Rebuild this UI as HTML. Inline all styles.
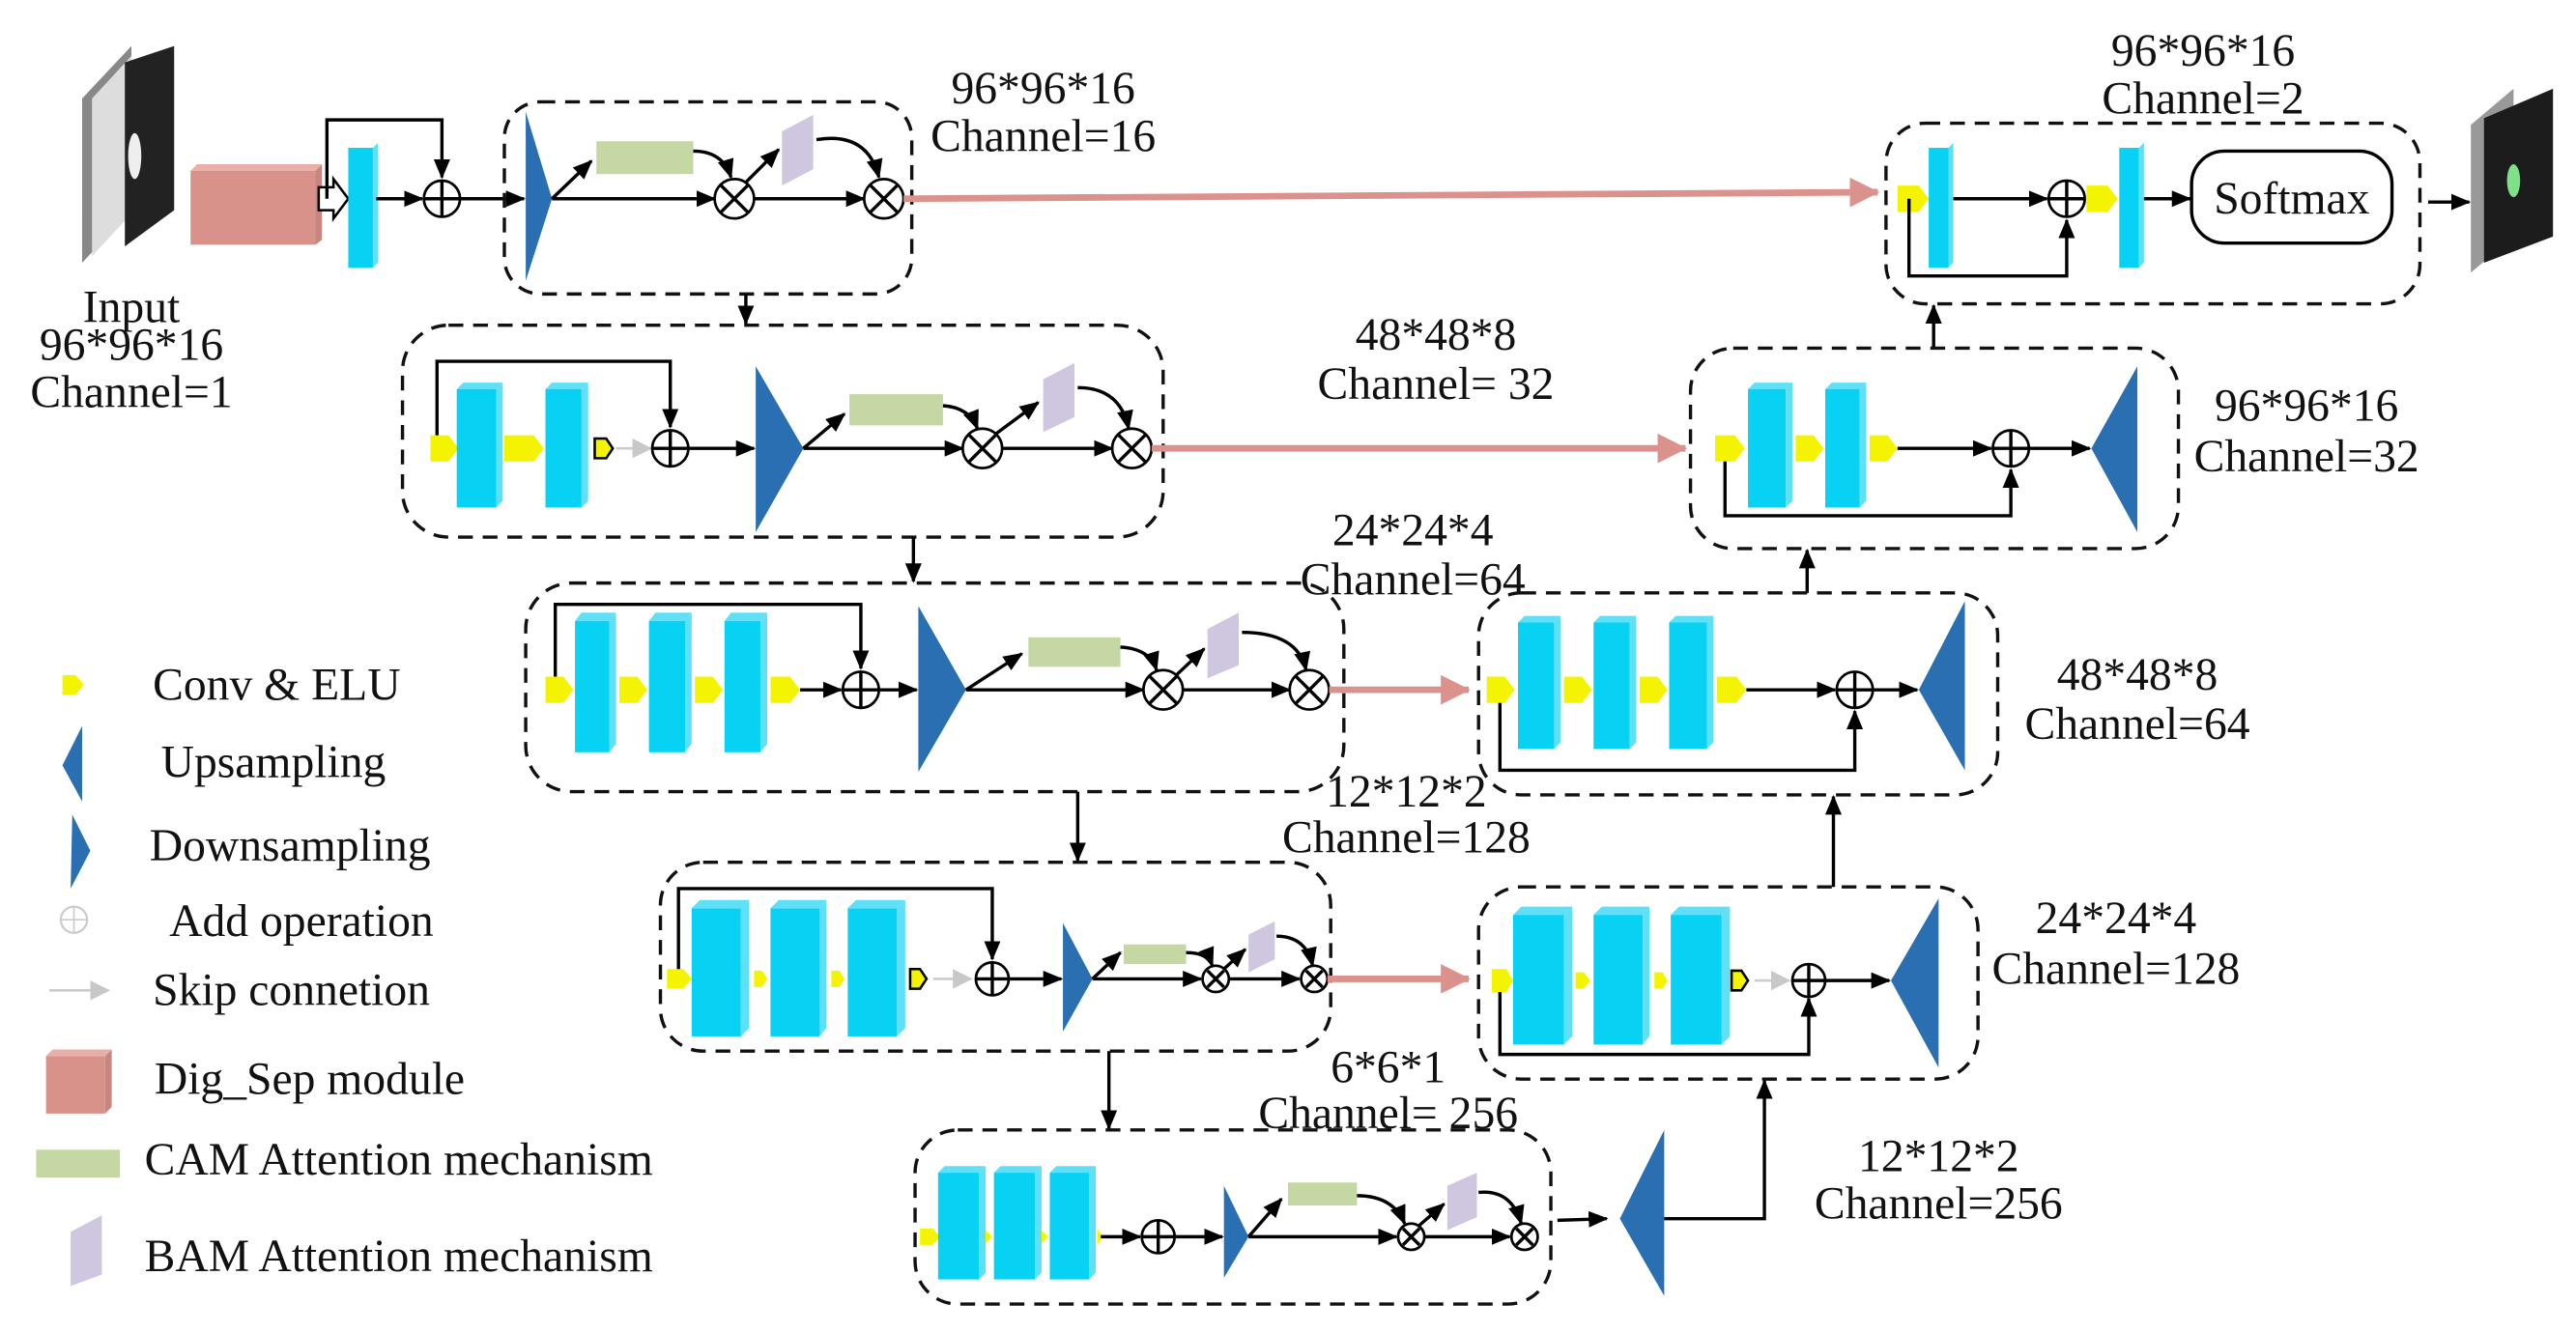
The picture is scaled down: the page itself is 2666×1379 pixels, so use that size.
<!DOCTYPE html>
<html><head><meta charset="utf-8"><style>
html,body{margin:0;padding:0;background:#fff;}
svg{display:block;}
text{font-family:"Liberation Serif",serif;font-size:28px;fill:#111;}
.ln{stroke:#000;stroke-width:2;fill:none;}
.db{stroke:#111;stroke-width:2;fill:none;stroke-dasharray:9 6;}
.cy{fill:#08d2f4;}
.cys{fill:#5fe0f7;}
.ye{fill:#f4f400;}
.tri{fill:#2a6fb2;}
.gr{fill:#c5d8a3;}
.pu{fill:#cfc6df;}
.pk{stroke:#dc928c;stroke-width:4;fill:none;}
.op{fill:#fff;stroke:#000;stroke-width:1.6;}
</style></head><body>
<svg width="2666" height="1379" viewBox="0 0 1568 811" preserveAspectRatio="none" xmlns="http://www.w3.org/2000/svg">
<defs>
<marker id="a" markerWidth="12" markerHeight="10" refX="11" refY="5" orient="auto" markerUnits="userSpaceOnUse"><path d="M0,0 L12,5 L0,10 z" fill="#000"/></marker>
<marker id="p" markerWidth="18" markerHeight="18" refX="17" refY="9" orient="auto" markerUnits="userSpaceOnUse"><path d="M0,0 L18,9 L0,18 z" fill="#dc928c"/></marker>
<marker id="g" markerWidth="12" markerHeight="12" refX="11" refY="6" orient="auto" markerUnits="userSpaceOnUse"><path d="M0,0 L12,6 L0,12 z" fill="#c8c8c8"/></marker>
</defs>

<!-- Input image -->
<polygon points="50,60 80,28 80,128 50,160" fill="#888"/>
<polygon points="56,60 80,34 80,130 56,156" fill="#ddd"/>
<polygon points="76,38 106,28 106,128 76,150" fill="#222"/>
<ellipse cx="82" cy="95" rx="4" ry="14" fill="#eee"/>
<text x="80" y="196" text-anchor="middle">Input</text>
<text x="80" y="219" text-anchor="middle">96*96*16</text>
<text x="80" y="248" text-anchor="middle">Channel=1</text>

<!-- Dig_Sep pink box -->
<polygon points="116,104 120,100 196,100 192,104" fill="#e9b0aa"/>
<polygon points="192,104 196,100 196,146 192,149" fill="#c98680"/>
<rect x="116" y="104" width="76" height="45" fill="#d9928a"/>
<polygon points="194,114 203,114 203,109 212,121 203,133 203,128 194,128" fill="#fff" stroke="#000" stroke-width="1.5"/>
<rect x="212" y="90" width="15" height="73" class="cy"/><polygon points="227,90 230,87 230,160 227,163" class="cys"/>
<line x1="229" y1="121" x2="257" y2="121" class="ln" marker-end="url(#a)"/>
<polyline points="199,121 199,73 269,73 269,108" class="ln" marker-end="url(#a)"/>
<circle cx="269" cy="121" r="11" class="op"/><line x1="258" y1="121" x2="280" y2="121" class="ln" stroke-width="1.4"/><line x1="269" y1="110" x2="269" y2="132" class="ln" stroke-width="1.4"/>
<line x1="280" y1="121" x2="319" y2="121" class="ln" marker-end="url(#a)"/>

<!-- Encoder block 1 -->
<rect x="307" y="62" width="248" height="117" rx="22" class="db"/>
<polygon points="320,68 336,121 320,171" class="tri"/>
<line x1="336" y1="121" x2="360" y2="98" class="ln" marker-end="url(#a)"/>
<rect x="363" y="86" width="59" height="20" class="gr"/>
<line x1="336" y1="121" x2="435" y2="121" class="ln" marker-end="url(#a)"/>
<path d="M422,92 Q440,92 445,108" class="ln" marker-end="url(#a)"/>
<line x1="453" y1="112" x2="474" y2="91" class="ln" marker-end="url(#a)"/>
<polygon points="476,80 495,70 495,103 476,113" class="pu"/>
<line x1="459" y1="121" x2="526" y2="121" class="ln" marker-end="url(#a)"/>
<path d="M497,85 Q528,80 535,108" class="ln" marker-end="url(#a)"/>
<circle cx="447" cy="121" r="12" class="op" stroke-width="2"/><path d="M439,113 L455,129 M455,113 L439,129" class="ln"/>
<circle cx="538" cy="121" r="12" class="op" stroke-width="2"/><path d="M530,113 L546,129 M546,113 L530,129" class="ln"/>
<text x="635" y="63" text-anchor="middle">96*96*16</text>
<text x="635" y="92" text-anchor="middle">Channel=16</text>
<line x1="550" y1="121" x2="1143" y2="117" class="pk" marker-end="url(#p)"/>
<line x1="454" y1="179" x2="454" y2="197" class="ln" marker-end="url(#a)"/>

<!-- Decoder top block -->
<rect x="1148" y="75" width="325" height="110" rx="24" class="db"/>
<polygon points="1155,113 1168,113 1174,121 1168,129 1155,129" class="ye"/>
<rect x="1174" y="90" width="12" height="73" class="cy"/><polygon points="1186,90 1189,87 1189,160 1186,163" class="cys"/>
<line x1="1189" y1="121" x2="1246" y2="121" class="ln" marker-end="url(#a)"/>
<polyline points="1162,121 1162,168 1258,168 1258,134" class="ln" marker-end="url(#a)"/>
<circle cx="1258" cy="121" r="11" class="op"/><line x1="1247" y1="121" x2="1269" y2="121" class="ln" stroke-width="1.4"/><line x1="1258" y1="110" x2="1258" y2="132" class="ln" stroke-width="1.4"/>
<polygon points="1270,113 1283,113 1289,121 1283,129 1270,129" class="ye"/>
<rect x="1290" y="90" width="12" height="73" class="cy"/><polygon points="1302,90 1305,87 1305,160 1302,163" class="cys"/>
<line x1="1305" y1="121" x2="1333" y2="121" class="ln" marker-end="url(#a)"/>
<rect x="1334" y="92" width="122" height="56" rx="20" fill="#fff" stroke="#000" stroke-width="2"/>
<text x="1395" y="130" text-anchor="middle">Softmax</text>
<line x1="1478" y1="123" x2="1503" y2="123" class="ln" marker-end="url(#a)"/>
<polygon points="1504,76 1530,54 1530,144 1504,166" fill="#999"/>
<polygon points="1512,72 1554,54 1554,144 1512,160" fill="#1c1c1c"/>
<ellipse cx="1530" cy="110" rx="4" ry="10" fill="#7fe08a"/>
<text x="1341" y="40" text-anchor="middle">96*96*16</text>
<text x="1341" y="69" text-anchor="middle">Channel=2</text>
<line x1="1177" y1="212" x2="1177" y2="186" class="ln" marker-end="url(#a)"/>

<!-- Encoder row 2 -->
<rect x="245" y="198" width="463" height="129" rx="28" class="db"/>
<polyline points="266,273 266,220 408,220 408,260" class="ln" marker-end="url(#a)"/>
<polygon points="262,265 273,265 279,273 273,281 262,281" class="ye"/>
<rect x="278" y="237" width="24" height="72" class="cy"/><polygon points="278,237 282,233 306,233 302,237" class="cys"/><polygon points="302,237 306,233 306,305 302,309" class="cys"/>
<polygon points="307,265 325,265 331,273 325,281 307,281" class="ye"/>
<rect x="332" y="237" width="22" height="72" class="cy"/><polygon points="332,237 336,233 358,233 354,237" class="cys"/><polygon points="354,237 358,233 358,305 354,309" class="cys"/>
<polygon points="362,267 369,267 373,273 369,279 362,279" class="ye" stroke="#000" stroke-width="1.5"/>
<line x1="375" y1="273" x2="396" y2="273" stroke="#ccc" stroke-width="1.5" marker-end="url(#g)"/>
<circle cx="408" cy="273" r="11" class="op"/><line x1="397" y1="273" x2="419" y2="273" class="ln" stroke-width="1.4"/><line x1="408" y1="262" x2="408" y2="284" class="ln" stroke-width="1.4"/>
<line x1="419" y1="273" x2="459" y2="273" class="ln" marker-end="url(#a)"/>
<polygon points="460,223 489,273 460,324" class="tri"/>
<line x1="489" y1="273" x2="514" y2="252" class="ln" marker-end="url(#a)"/>
<rect x="517" y="240" width="57" height="19" class="gr"/>
<line x1="489" y1="273" x2="586" y2="273" class="ln" marker-end="url(#a)"/>
<path d="M574,247 Q590,248 595,261" class="ln" marker-end="url(#a)"/>
<line x1="605" y1="265" x2="632" y2="245" class="ln" marker-end="url(#a)"/>
<polygon points="635,231 654,221 654,254 635,263" class="pu"/>
<line x1="610" y1="273" x2="677" y2="273" class="ln" marker-end="url(#a)"/>
<path d="M656,236 Q682,236 687,261" class="ln" marker-end="url(#a)"/>
<circle cx="598" cy="273" r="12" class="op" stroke-width="2"/><path d="M590,265 L606,281 M606,265 L590,281" class="ln"/>
<circle cx="689" cy="273" r="12" class="op" stroke-width="2"/><path d="M681,265 L697,281 M697,265 L681,281" class="ln"/>
<text x="874" y="213" text-anchor="middle">48*48*8</text>
<text x="874" y="243" text-anchor="middle">Channel= 32</text>
<line x1="701" y1="273" x2="1026" y2="273" class="pk" marker-end="url(#p)"/>
<line x1="556" y1="327" x2="556" y2="354" class="ln" marker-end="url(#a)"/>

<!-- Decoder row 2 -->
<rect x="1029" y="212" width="297" height="122" rx="26" class="db"/>
<polyline points="1050,273 1050,314 1224,314 1224,286" class="ln" marker-end="url(#a)"/>
<polygon points="1044,265 1056,265 1062,273 1056,281 1044,281" class="ye"/>
<rect x="1064" y="237" width="23" height="72" class="cy"/><polygon points="1064,237 1068,233 1091,233 1087,237" class="cys"/><polygon points="1087,237 1091,233 1091,305 1087,309" class="cys"/>
<polygon points="1093,265 1104,265 1110,273 1104,281 1093,281" class="ye"/>
<rect x="1111" y="237" width="21" height="72" class="cy"/><polygon points="1111,237 1115,233 1136,233 1132,237" class="cys"/><polygon points="1132,237 1136,233 1136,305 1132,309" class="cys"/>
<polygon points="1138,265 1149,265 1155,273 1149,281 1138,281" class="ye"/>
<line x1="1155" y1="273" x2="1212" y2="273" class="ln" marker-end="url(#a)"/>
<circle cx="1224" cy="273" r="11" class="op"/><line x1="1213" y1="273" x2="1235" y2="273" class="ln" stroke-width="1.4"/><line x1="1224" y1="262" x2="1224" y2="284" class="ln" stroke-width="1.4"/>
<line x1="1235" y1="273" x2="1272" y2="273" class="ln" marker-end="url(#a)"/>
<polygon points="1301,223 1273,273 1301,324" class="tri"/>
<text x="1404" y="256" text-anchor="middle">96*96*16</text>
<text x="1404" y="287" text-anchor="middle">Channel=32</text>
<line x1="1100" y1="361" x2="1100" y2="335" class="ln" marker-end="url(#a)"/>

<!-- Encoder row 3 -->
<rect x="320" y="355" width="498" height="127" rx="28" class="db"/>
<polyline points="338,420 338,368 524,368 524,407" class="ln" marker-end="url(#a)"/>
<polygon points="332,412 343,412 349,420 343,428 332,428" class="ye"/>
<rect x="350" y="378" width="21" height="80" class="cy"/><polygon points="350,378 354,373 375,373 371,378" class="cys"/><polygon points="371,378 375,373 375,453 371,458" class="cys"/>
<polygon points="377,412 388,412 394,420 388,428 377,428" class="ye"/>
<rect x="395" y="378" width="22" height="80" class="cy"/><polygon points="395,378 399,373 421,373 417,378" class="cys"/><polygon points="417,378 421,373 421,453 417,458" class="cys"/>
<polygon points="423,412 434,412 440,420 434,428 423,428" class="ye"/>
<rect x="441" y="378" width="22" height="80" class="cy"/><polygon points="441,378 445,373 467,373 463,378" class="cys"/><polygon points="463,378 467,373 467,453 463,458" class="cys"/>
<polygon points="469,412 481,412 487,420 481,428 469,428" class="ye"/>
<line x1="487" y1="420" x2="512" y2="420" class="ln" marker-end="url(#a)"/>
<circle cx="524" cy="420" r="11" class="op"/><line x1="513" y1="420" x2="535" y2="420" class="ln" stroke-width="1.4"/><line x1="524" y1="409" x2="524" y2="431" class="ln" stroke-width="1.4"/>
<line x1="535" y1="420" x2="558" y2="420" class="ln" marker-end="url(#a)"/>
<polygon points="559,369 588,420 559,470" class="tri"/>
<line x1="588" y1="420" x2="622" y2="398" class="ln" marker-end="url(#a)"/>
<rect x="626" y="388" width="56" height="18" class="gr"/>
<line x1="588" y1="420" x2="696" y2="420" class="ln" marker-end="url(#a)"/>
<path d="M682,394 Q700,395 704,408" class="ln" marker-end="url(#a)"/>
<line x1="715" y1="412" x2="733" y2="395" class="ln" marker-end="url(#a)"/>
<polygon points="735,383 754,373 754,405 735,413" class="pu"/>
<line x1="720" y1="420" x2="785" y2="420" class="ln" marker-end="url(#a)"/>
<path d="M756,385 Q790,385 795,408" class="ln" marker-end="url(#a)"/>
<circle cx="708" cy="420" r="12" class="op" stroke-width="2"/><path d="M700,412 L716,428 M716,412 L700,428" class="ln"/>
<circle cx="797" cy="420" r="12" class="op" stroke-width="2"/><path d="M789,412 L805,428 M805,412 L789,428" class="ln"/>
<line x1="809" y1="420" x2="894" y2="420" class="pk" marker-end="url(#p)"/>
<text x="860" y="332" text-anchor="middle">24*24*4</text>
<text x="860" y="362" text-anchor="middle">Channel=64</text>
<line x1="656" y1="482" x2="656" y2="524" class="ln" marker-end="url(#a)"/>

<!-- Decoder row 3 -->
<rect x="900" y="361" width="316" height="123" rx="26" class="db"/>
<polyline points="913,420 913,469 1129,469 1129,433" class="ln" marker-end="url(#a)"/>
<polygon points="905,412 916,412 922,420 916,428 905,428" class="ye"/>
<rect x="924" y="379" width="22" height="77" class="cy"/><polygon points="924,379 928,375 950,375 946,379" class="cys"/><polygon points="946,379 950,375 950,452 946,456" class="cys"/>
<polygon points="952,412 963,412 969,420 963,428 952,428" class="ye"/>
<rect x="970" y="379" width="22" height="77" class="cy"/><polygon points="970,379 974,375 996,375 992,379" class="cys"/><polygon points="992,379 996,375 996,452 992,456" class="cys"/>
<polygon points="998,412 1009,412 1015,420 1009,428 998,428" class="ye"/>
<rect x="1016" y="379" width="23" height="77" class="cy"/><polygon points="1016,379 1020,375 1043,375 1039,379" class="cys"/><polygon points="1039,379 1043,375 1043,452 1039,456" class="cys"/>
<polygon points="1045,412 1057,412 1063,420 1057,428 1045,428" class="ye"/>
<line x1="1063" y1="420" x2="1117" y2="420" class="ln" marker-end="url(#a)"/>
<circle cx="1129" cy="420" r="11" class="op"/><line x1="1118" y1="420" x2="1140" y2="420" class="ln" stroke-width="1.4"/><line x1="1129" y1="409" x2="1129" y2="431" class="ln" stroke-width="1.4"/>
<line x1="1140" y1="420" x2="1167" y2="420" class="ln" marker-end="url(#a)"/>
<polygon points="1196,366 1168,420 1196,469" class="tri"/>
<text x="1301" y="420" text-anchor="middle">48*48*8</text>
<text x="1301" y="450" text-anchor="middle">Channel=64</text>
<line x1="1116" y1="540" x2="1116" y2="485" class="ln" marker-end="url(#a)"/>

<!-- Encoder row 4 -->
<rect x="402" y="525" width="408" height="115" rx="26" class="db"/>
<polyline points="413,596 413,541 604,541 604,584" class="ln" marker-end="url(#a)"/>
<polygon points="406,590 416,590 421,596 416,602 406,602" class="ye"/>
<rect x="421" y="553" width="30" height="78" class="cy"/><polygon points="421,553 426,548 456,548 451,553" class="cys"/><polygon points="451,553 456,548 456,626 451,631" class="cys"/>
<polygon points="459,591 464,591 467,596 464,601 459,601" class="ye"/>
<rect x="469" y="553" width="30" height="78" class="cy"/><polygon points="469,553 474,548 503,548 499,553" class="cys"/><polygon points="499,553 503,548 503,626 499,631" class="cys"/>
<polygon points="506,591 511,591 514,596 511,601 506,601" class="ye"/>
<rect x="516" y="553" width="30" height="78" class="cy"/><polygon points="516,553 521,548 551,548 546,553" class="cys"/><polygon points="546,553 551,548 551,626 546,631" class="cys"/>
<polygon points="554,590 560,590 564,596 560,602 554,602" class="ye" stroke="#000" stroke-width="1.5"/>
<line x1="568" y1="596" x2="591" y2="596" stroke="#ccc" stroke-width="1.5" marker-end="url(#g)"/>
<circle cx="604" cy="596" r="10" class="op"/><line x1="594" y1="596" x2="614" y2="596" class="ln" stroke-width="1.4"/><line x1="604" y1="586" x2="604" y2="606" class="ln" stroke-width="1.4"/>
<line x1="614" y1="596" x2="646" y2="596" class="ln" marker-end="url(#a)"/>
<polygon points="647,562 665,596 647,628" class="tri"/>
<line x1="665" y1="596" x2="682" y2="580" class="ln" marker-end="url(#a)"/>
<rect x="684" y="575" width="38" height="12" class="gr"/>
<line x1="665" y1="596" x2="731" y2="596" class="ln" marker-end="url(#a)"/>
<path d="M722,580 Q735,580 738,588" class="ln" marker-end="url(#a)"/>
<line x1="745" y1="590" x2="758" y2="578" class="ln" marker-end="url(#a)"/>
<polygon points="760,569 776,561 776,584 760,592" class="pu"/>
<line x1="748" y1="596" x2="791" y2="596" class="ln" marker-end="url(#a)"/>
<path d="M777,570 Q795,570 799,588" class="ln" marker-end="url(#a)"/>
<circle cx="740" cy="596" r="8" class="op" stroke-width="2"/><path d="M735,591 L745,601 M745,591 L735,601" class="ln"/>
<circle cx="800" cy="596" r="8" class="op" stroke-width="2"/><path d="M795,591 L805,601 M805,591 L795,601" class="ln"/>
<line x1="808" y1="596" x2="894" y2="596" class="pk" marker-end="url(#p)"/>
<text x="856" y="491" text-anchor="middle">12*12*2</text>
<text x="856" y="519" text-anchor="middle">Channel=128</text>
<line x1="675" y1="640" x2="675" y2="687" class="ln" marker-end="url(#a)"/>

<!-- Decoder row 4 -->
<rect x="900" y="540" width="304" height="117" rx="26" class="db"/>
<polyline points="913,597 913,642 1101,642 1101,608" class="ln" marker-end="url(#a)"/>
<polygon points="908,590 917,590 921,597 917,604 908,604" class="ye"/>
<rect x="921" y="557" width="31" height="79" class="cy"/><polygon points="921,557 926,552 957,552 952,557" class="cys"/><polygon points="952,557 957,552 957,631 952,636" class="cys"/>
<polygon points="959,592 964,592 968,597 964,602 959,602" class="ye"/>
<rect x="970" y="557" width="30" height="79" class="cy"/><polygon points="970,557 975,552 1004,552 1000,557" class="cys"/><polygon points="1000,557 1004,552 1004,631 1000,636" class="cys"/>
<polygon points="1007,592 1012,592 1015,597 1012,602 1007,602" class="ye"/>
<rect x="1017" y="557" width="31" height="79" class="cy"/><polygon points="1017,557 1022,552 1053,552 1048,557" class="cys"/><polygon points="1048,557 1053,552 1053,631 1048,636" class="cys"/>
<polygon points="1054,591 1060,591 1064,597 1060,603 1054,603" class="ye" stroke="#000" stroke-width="1.5"/>
<line x1="1068" y1="597" x2="1089" y2="597" stroke="#ccc" stroke-width="1.5" marker-end="url(#g)"/>
<circle cx="1101" cy="597" r="10" class="op"/><line x1="1091" y1="597" x2="1111" y2="597" class="ln" stroke-width="1.4"/><line x1="1101" y1="587" x2="1101" y2="607" class="ln" stroke-width="1.4"/>
<line x1="1111" y1="597" x2="1150" y2="597" class="ln" marker-end="url(#a)"/>
<polygon points="1180,547 1151,597 1180,650" class="tri"/>
<text x="1288" y="568" text-anchor="middle">24*24*4</text>
<text x="1288" y="599" text-anchor="middle">Channel=128</text>

<!-- Encoder row 5 -->
<rect x="557" y="688" width="387" height="106" rx="26" class="db"/>
<polygon points="560,748 568,748 572,753 568,758 560,758" class="ye"/>
<rect x="571" y="714" width="25" height="65" class="cy"/><polygon points="571,714 575,710 600,710 596,714" class="cys"/><polygon points="596,714 600,710 600,775 596,779" class="cys"/>
<polygon points="600,749 604,753 600,757" class="ye"/>
<rect x="605" y="714" width="25" height="65" class="cy"/><polygon points="605,714 609,710 634,710 630,714" class="cys"/><polygon points="630,714 634,710 634,775 630,779" class="cys"/>
<polygon points="634,749 638,753 634,757" class="ye"/>
<rect x="639" y="714" width="24" height="65" class="cy"/><polygon points="639,714 643,710 667,710 663,714" class="cys"/><polygon points="663,714 667,710 667,775 663,779" class="cys"/>
<polygon points="668,748 671,753 668,758" class="ye"/>
<line x1="670" y1="753" x2="694" y2="753" class="ln" marker-end="url(#a)"/>
<circle cx="705" cy="753" r="10" class="op"/><line x1="695" y1="753" x2="715" y2="753" class="ln" stroke-width="1.4"/><line x1="705" y1="743" x2="705" y2="763" class="ln" stroke-width="1.4"/>
<line x1="715" y1="753" x2="744" y2="753" class="ln" marker-end="url(#a)"/>
<polygon points="745,722 760,753 745,778" class="tri"/>
<line x1="760" y1="753" x2="780" y2="730" class="ln" marker-end="url(#a)"/>
<rect x="784" y="720" width="42" height="14" class="gr"/>
<line x1="760" y1="753" x2="850" y2="753" class="ln" marker-end="url(#a)"/>
<path d="M826,728 Q848,728 855,745" class="ln" marker-end="url(#a)"/>
<line x1="864" y1="746" x2="879" y2="733" class="ln" marker-end="url(#a)"/>
<polygon points="881,722 899,714 899,741 881,749" class="pu"/>
<line x1="867" y1="753" x2="919" y2="753" class="ln" marker-end="url(#a)"/>
<path d="M900,726 Q920,724 926,745" class="ln" marker-end="url(#a)"/>
<circle cx="859" cy="753" r="8" class="op" stroke-width="2"/><path d="M854,748 L864,758 M864,748 L854,758" class="ln"/>
<circle cx="928" cy="753" r="8" class="op" stroke-width="2"/><path d="M923,748 L933,758 M933,748 L923,758" class="ln"/>
<line x1="948" y1="743" x2="978" y2="742" class="ln" marker-end="url(#a)"/>
<polygon points="1013,688 986,742 1013,789" class="tri"/>
<polyline points="1013,742 1074,742 1074,658" class="ln" marker-end="url(#a)"/>
<text x="845" y="659" text-anchor="middle">6*6*1</text>
<text x="845" y="687" text-anchor="middle">Channel= 256</text>
<text x="1180" y="713" text-anchor="middle">12*12*2</text>
<text x="1180" y="742" text-anchor="middle">Channel=256</text>

<!-- Legend -->
<polygon points="38,411 46,411 51,417 46,423 38,423" class="ye"/>
<text x="93" y="426">Conv &amp; ELU</text>
<polygon points="50,442 38,466 50,488" class="tri"/>
<text x="98" y="473">Upsampling</text>
<polygon points="44,496 55,518 43,541" class="tri"/>
<text x="91" y="524">Downsampling</text>
<circle cx="45" cy="560" r="8" fill="none" stroke="#ccc" stroke-width="1.3"/><line x1="37" y1="560" x2="53" y2="560" stroke="#ccc"/><line x1="45" y1="552" x2="45" y2="568" stroke="#ccc"/>
<text x="103" y="570">Add operation</text>
<line x1="30" y1="603" x2="66" y2="603" stroke="#ccc" stroke-width="1.5" marker-end="url(#g)"/>
<text x="93" y="612">Skip connetion</text>
<rect x="28" y="643" width="36" height="35" fill="#d9928a"/><polygon points="28,643 32,639 68,639 64,643" fill="#e9b0aa"/><polygon points="64,643 68,639 68,674 64,678" fill="#c98680"/>
<text x="94" y="666">Dig_Sep module</text>
<rect x="22" y="700" width="51" height="17" class="gr"/>
<text x="88" y="715">CAM Attention mechanism</text>
<polygon points="43,750 62,740 62,776 43,783" class="pu"/>
<text x="88" y="774">BAM Attention mechanism</text>
</svg>
</body></html>
